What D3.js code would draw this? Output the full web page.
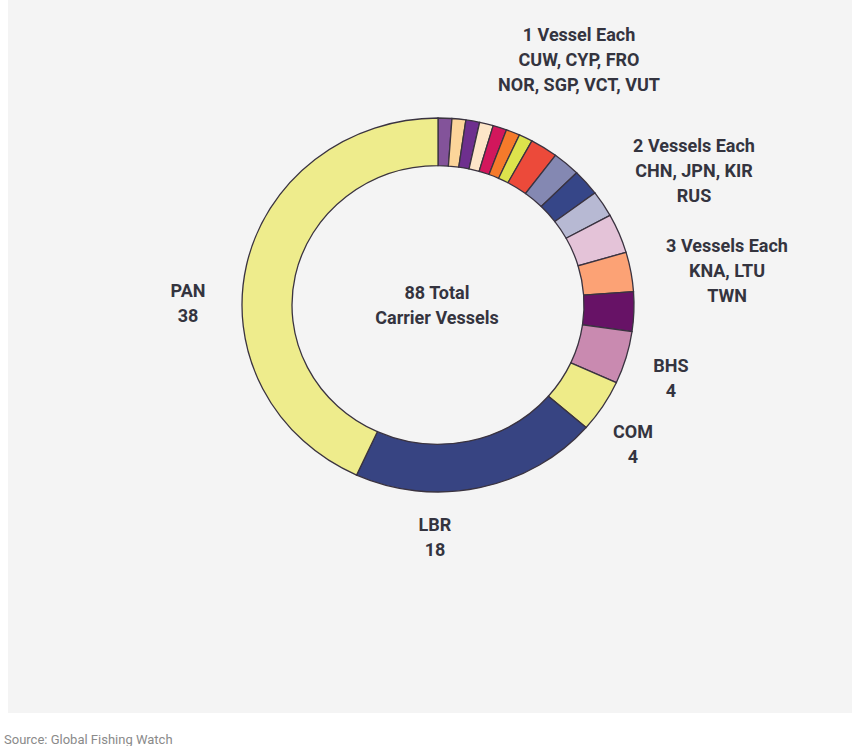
<!DOCTYPE html>
<html>
<head>
<meta charset="utf-8">
<script src="https://cdn.jsdelivr.net/npm/d3@7"></script>
<style>
  html, body { margin: 0; padding: 0; background: #ffffff; }
  svg { display: block; }
  text { font-family: Roboto, "Noto Sans", sans-serif; }
</style>
</head>
<body>
<svg id="chart" width="852" height="746"></svg>
<script>
// Carrier vessels by flag state, clockwise from 12 o'clock
const flags = ["CUW", "CYP", "FRO", "NOR", "SGP", "VCT", "VUT",
               "CHN", "JPN", "KIR", "RUS",
               "KNA", "LTU", "TWN",
               "BHS", "COM", "LBR", "PAN"];
const vessels = [1, 1, 1, 1, 1, 1, 1,
                 2, 2, 2, 2,
                 3, 3, 3,
                 4, 4, 18, 38];
const sliceColors = ["#83539a", "#fcd59a", "#6e2f8e", "#fde6c8", "#d2175c", "#f57a2b", "#dde34c",
                     "#ec4a3a", "#8488b2", "#364688", "#b7b9d3",
                     "#e4c3d8", "#fca275", "#671266",
                     "#c98ab0", "#eeeb88", "#374482", "#eeec8c"];

// Annotation blocks: lines of text and their anchor points
const groupLabels = [
  { lines: ["1 Vessel Each", "CUW, CYP, FRO", "NOR, SGP, VCT, VUT"], x: 579, y: 41 },
  { lines: ["2 Vessels Each", "CHN, JPN, KIR", "RUS"], x: 694, y: 152 },
  { lines: ["3 Vessels Each", "KNA, LTU", "TWN"], x: 727, y: 252 },
  { lines: ["PAN", "38"], x: 188, y: 297 },
  { lines: ["BHS", "4"], x: 671, y: 372 },
  { lines: ["COM", "4"], x: 633, y: 438 },
  { lines: ["LBR", "18"], x: 435, y: 531 }
];
const centerLines = ["88 Total", "Carrier Vessels"];
const sourceText = "Source: Global Fishing Watch";

const svg = d3.select("#chart");
const textColor = "#34343f";
const lineGap = 25;

// Light panel behind the chart
svg.append("rect")
  .attr("x", 8).attr("y", 0)
  .attr("width", 844).attr("height", 713)
  .attr("fill", "#f4f4f4");

const cx = 438, cy = 305;
const outerR = 196, innerR = 146;

const pie = d3.pie().sort(null).value(d => d.v)
  .startAngle(0).endAngle(2 * Math.PI);
const arc = d3.arc().innerRadius(innerR).outerRadius(outerR);
const color = d3.scaleOrdinal().domain(flags).range(sliceColors);

const data = flags.map((f, i) => ({ f, v: vessels[i] }));

const ring = svg.append("g")
  .attr("transform", `translate(${cx},${cy}) scale(1,0.954)`);

ring.selectAll("path")
  .data(pie(data))
  .join("path")
  .attr("d", arc)
  .attr("fill", d => color(d.data.f))
  .attr("stroke", "#3a3340")
  .attr("stroke-width", 1.3)
  .attr("vector-effect", "non-scaling-stroke");

// Multi-line centred labels
function block(lines, x, y) {
  const t = svg.append("text")
    .attr("x", x).attr("y", y)
    .attr("text-anchor", "middle")
    .attr("font-size", 18)
    .attr("font-weight", 700)
    .attr("fill", textColor);
  lines.forEach((ln, i) => {
    t.append("tspan").attr("x", x).attr("dy", i === 0 ? 0 : lineGap).text(ln);
  });
}

groupLabels.forEach(g => block(g.lines, g.x, g.y));
block(centerLines, 437, 299);

svg.append("text")
  .attr("x", 4).attr("y", 744)
  .attr("font-size", 13)
  .attr("fill", "#8a8a8a")
  .text(sourceText);
</script>
</body>
</html>
